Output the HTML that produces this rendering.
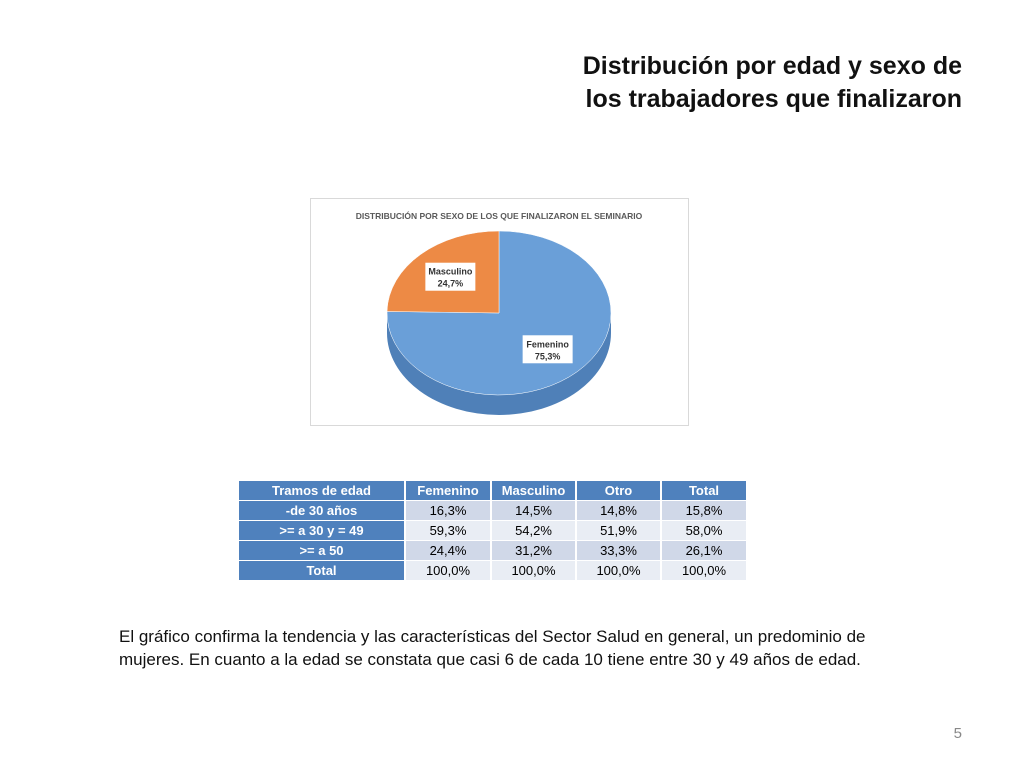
<!DOCTYPE html>
<html><head><meta charset="utf-8"><style>
body{margin:0;width:1024px;height:768px;background:#fff;font-family:"Liberation Sans",sans-serif;position:relative;overflow:hidden}
.title{position:absolute;right:62px;top:50px;text-align:right;font-size:25px;font-weight:bold;line-height:33px;color:#111}
.chartbox{position:absolute;left:310px;top:198px;width:377px;height:226px;border:1px solid #d9d9d9}
table{position:absolute;left:237px;top:480px;border-collapse:separate;border-spacing:2px 1px;font-size:13px}
td{height:19px;text-align:center;padding:0;color:#000}
td.h{background:#4f81bd;color:#fff;font-weight:bold}
tr.a td.v{background:#d0d8e8}tr.b td.v{background:#e9edf4}
.para{position:absolute;left:119px;top:625px;width:790px;font-size:17px;line-height:23px;color:#111}
.pg{position:absolute;right:62px;top:725px;font-size:15px;color:#888}
</style></head><body>
<div class="title">Distribución por edad y sexo de<br>los trabajadores que finalizaron</div>
<div class="chartbox">
<svg width="377" height="226" id="pie"><text x="188" y="20" text-anchor="middle" font-size="8.5" font-weight="bold" fill="#595959">DISTRIBUCIÓN POR SEXO DE LOS QUE FINALIZARON EL SEMINARIO</text></svg>
</div>
<table>
<tr><td class="h" style="width:165px">Tramos de edad</td><td class="h" style="width:84px">Femenino</td><td class="h" style="width:83px">Masculino</td><td class="h" style="width:83px">Otro</td><td class="h" style="width:84px">Total</td></tr>
<tr class="a"><td class="h">-de 30 años</td><td class="v">16,3%</td><td class="v">14,5%</td><td class="v">14,8%</td><td class="v">15,8%</td></tr>
<tr class="b"><td class="h">&gt;= a 30 y = 49</td><td class="v">59,3%</td><td class="v">54,2%</td><td class="v">51,9%</td><td class="v">58,0%</td></tr>
<tr class="a"><td class="h">&gt;= a 50</td><td class="v">24,4%</td><td class="v">31,2%</td><td class="v">33,3%</td><td class="v">26,1%</td></tr>
<tr class="b"><td class="h">Total</td><td class="v">100,0%</td><td class="v">100,0%</td><td class="v">100,0%</td><td class="v">100,0%</td></tr>
</table>
<div class="para">El gráfico confirma la tendencia y las características del Sector Salud en general, un predominio de mujeres. En cuanto a la edad se constata que casi 6 de cada 10 tiene entre 30 y 49 años de edad.</div>
<div class="pg">5</div>
<script>
const categories=["Femenino","Masculino"];
const values=[75.3,24.7];
const labels=["75,3%","24,7%"];
const svg=document.getElementById('pie');const NS='http://www.w3.org/2000/svg';
const cx=188,cy=114,rx=112,ry=82,dep=20;
const cols=["#6a9fd8","#ed8a45"],side=["#4f80b8","#c96e32"];
function pt(a,dy){return [cx+rx*Math.sin(a),cy-ry*Math.cos(a)+(dy||0)];}
const tot=values.reduce((s,v)=>s+v,0);
// side wall
let side0=document.createElementNS(NS,'path');
side0.setAttribute('d',`M${cx-rx},${cy} A${rx},${ry} 0 0 0 ${cx+rx},${cy} L${cx+rx},${cy+dep} A${rx},${ry} 0 0 1 ${cx-rx},${cy+dep}Z`);
side0.setAttribute('fill',side[0]);


svg.appendChild(side0);
let a0=0;
values.forEach((v,i)=>{
 const a1=a0+v/tot*2*Math.PI;
 const p0=pt(a0),p1=pt(a1);
 const p=document.createElementNS(NS,'path');
 p.setAttribute('d',`M${cx},${cy} L${p0[0]},${p0[1]} A${rx},${ry} 0 ${a1-a0>Math.PI?1:0} 1 ${p1[0]},${p1[1]}Z`);
 p.setAttribute('fill',cols[i]);
 p.setAttribute('stroke','#fff');p.setAttribute('stroke-width','0.5');
 
 
 svg.appendChild(p);
 const m=(a0+a1)/2;const lp=[cx+rx*0.62*Math.sin(m),cy-ry*0.62*Math.cos(m)];
 const g=document.createElementNS(NS,'g');
 
 
 g.innerHTML=`<rect x="${lp[0]-25}" y="${lp[1]-14}" width="50" height="28" fill="#fff"/><text x="${lp[0]}" y="${lp[1]-2}" text-anchor="middle" font-size="9" font-weight="bold" fill="#333">${categories[i]}</text><text x="${lp[0]}" y="${lp[1]+10}" text-anchor="middle" font-size="9" font-weight="bold" fill="#333">${labels[i]}</text>`;
 svg.appendChild(g);
 a0=a1;
});
</script>
</body></html>
